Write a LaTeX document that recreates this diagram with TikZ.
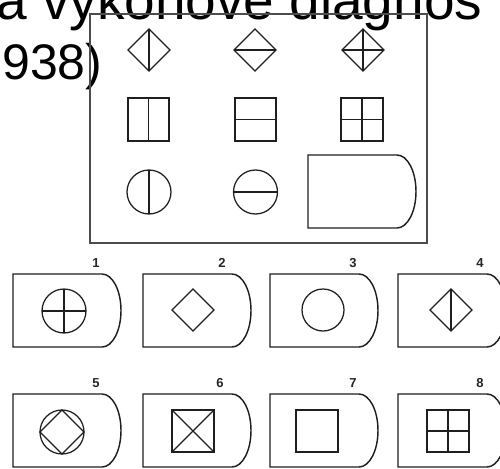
\documentclass[tikz,border=0pt]{standalone}
\usepackage{fontspec}
\setmainfont{Liberation Sans}
\begin{document}
\begin{tikzpicture}[x=1pt,y=1pt,
  fig/.style={line width=1.25pt, draw=black!88},
  cardline/.style={line width=1.45pt, draw=black!88},
  frame/.style={line width=1.4pt, draw=black!70},
  num/.style={font=\fontsize{13}{14}\selectfont\bfseries, inner sep=0, text=black!85},
  title/.style={anchor=base west, inner sep=0}]
\useasboundingbox (0,0) rectangle (500,-468);
\clip (0,0) rectangle (500,-468);
\fill[white] (0,0) rectangle (500,-468);
% card shape macro: #1 = x0, #2 = y0 (image coords)
\newcommand{\cardshape}[2]{%
  \draw[cardline] (#1,-#2) -- ++(89,0) arc[start angle=90,end angle=-90,x radius=19,y radius=36.5] -- (#1,-#2-73) -- cycle;}
\newcommand{\diam}[3]{\draw[fig] (#1,-#2+#3) -- (#1+#3,-#2) -- (#1,-#2-#3) -- (#1-#3,-#2) -- cycle;}
\newcommand{\sq}[3]{\draw[fig] (#1-#3,-#2-#3) rectangle (#1+#3,-#2+#3);}

% title text
\node[title, font=\fontsize{55}{60}\selectfont] (t1) at (-4,-20) {a výkonové diagnos};
\node[title, font=\fontsize{50}{60}\selectfont] (t2) at (2,-80) {938)};

% main frame
\draw[frame] (90,-14) rectangle (427,-243);
% row 1 diamonds
\diam{149}{50}{21}
\draw[fig] (149,-29) -- (149,-71);
\diam{255}{50}{21}
\draw[fig] (234,-50) -- (276,-50);
\diam{363}{50}{21}
\draw[fig] (363,-29) -- (363,-71);
\draw[fig] (342,-50) -- (384,-50);
% row 2 squares
\draw[fig] (128,-98) rectangle (169,-141);
\draw[fig] (148.5,-98) -- (148.5,-141);
\draw[fig] (235,-98) rectangle (276,-141);
\draw[fig] (235,-119.5) -- (276,-119.5);
\draw[fig] (341,-98) rectangle (383,-141);
\draw[fig] (362,-98) -- (362,-141);
\draw[fig] (341,-119.5) -- (383,-119.5);
% row 3 circles and D
\draw[fig] (149,-192) circle[radius=22];
\draw[fig] (149,-170) -- (149,-214);
\draw[fig] (255.5,-192) circle[radius=22];
\draw[fig] (233.5,-192) -- (277.5,-192);
\cardshape{308}{155}

% answer cards, row 1
\cardshape{13}{274}
\cardshape{143}{274}
\cardshape{270}{274}
\cardshape{398}{274}
\node[num] (n1) at (96,-263) {1};
\node[num] (n2) at (222,-263) {2};
\node[num] (n3) at (353,-263) {3};
\node[num] (n4) at (480,-263) {4};
% card 1: circle with cross
\draw[fig] (64,-311) circle[radius=22];
\draw[fig] (42,-311) -- (86,-311);
\draw[fig] (64,-289) -- (64,-333);
% card 2: diamond
\diam{193}{310}{21}
% card 3: circle
\draw[fig] (323,-310) circle[radius=21];
% card 4: diamond with vertical line
\diam{451}{310}{21}
\draw[fig] (451,-289) -- (451,-331);

% answer cards, row 2
\cardshape{13}{394}
\cardshape{143}{394}
\cardshape{270}{394}
\cardshape{398}{394}
\node[num] (n5) at (96,-383) {5};
\node[num] (n6) at (220,-383) {6};
\node[num] (n7) at (353,-383) {7};
\node[num] (n8) at (480,-383) {8};
% card 5: circle with inscribed diamond
\draw[fig] (62,-432) circle[radius=22];
\diam{62}{432}{22}
% card 6: square with X
\sq{193}{431}{21}
\draw[fig] (172,-410) -- (214,-452);
\draw[fig] (172,-452) -- (214,-410);
% card 7: square
\sq{317}{431}{21}
% card 8: square with cross
\sq{448}{431}{21}
\draw[fig] (427,-431) -- (469,-431);
\draw[fig] (448,-410) -- (448,-452);
\end{tikzpicture}
\end{document}
